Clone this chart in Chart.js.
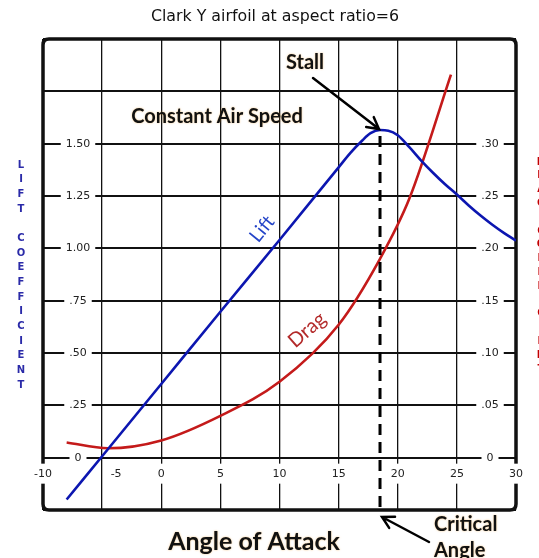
<!DOCTYPE html>
<html>
<head>
<meta charset="utf-8">
<script src="https://cdn.jsdelivr.net/npm/chart.js@4.4.1/dist/chart.umd.min.js"></script>
<style>
  html, body { margin: 0; padding: 0; background: #fff; }
  #wrap { width: 539px; height: 558px; }
</style>
</head>
<body>
<div id="wrap"><canvas id="c" width="539" height="558"></canvas></div>
<script>
// --- data ---
var ANGLES_LIFT = [-8, -5, 0, 5, 10, 15, 16, 17, 17.7, 18.5, 19.2, 20, 21, 22, 23, 24, 25, 26, 27, 28, 29, 30];
var LIFT = [-0.2, 0.007, 0.352, 0.697, 1.04, 1.387, 1.456, 1.515, 1.55, 1.565, 1.562, 1.54, 1.482, 1.418, 1.36, 1.306, 1.257, 1.205, 1.157, 1.113, 1.073, 1.037];

var ANGLES_DRAG = [-8, -4.5, 0, 5, 10, 15, 18.5, 21, 24.5];
var DRAG = [0.0145, 0.009, 0.0165, 0.04, 0.0725, 0.127, 0.19, 0.248, 0.366];

var X_TICKS = [-10, -5, 0, 5, 10, 15, 20, 25, 30];
var X_LABELS = ['-10', '-5', '0', '5', '10', '15', '20', '25', '30'];
var LIFT_TICKS = [0, 0.25, 0.5, 0.75, 1.0, 1.25, 1.5];
var LIFT_LABELS = ['0', '.25', '.50', '.75', '1.00', '1.25', '1.50'];
var DRAG_TICKS = [0, 0.05, 0.1, 0.15, 0.2, 0.25, 0.3];
var DRAG_LABELS = ['0', '.05', '.10', '.15', '.20', '.25', '.30'];

var STALL_ANGLE = 18.5;
var STALL_LIFT = 1.565;

var TITLE = 'Clark Y airfoil at aspect ratio=6';
var LEFT_TITLE = 'LIFT COEFFICIENT';
var RIGHT_TITLE = 'DRAG COEFFICIENT';

function pairs(xs, ys) {
  return xs.map(function (x, i) { return { x: x, y: ys[i] }; });
}

var TICK_FONT = "11px 'DejaVu Sans', Verdana, sans-serif";
function bold(s) { return 'bold ' + s + "px Lato, 'Open Sans', sans-serif"; }

function gapLabel(ctx, text, x, y, padX, padY) {
  var w = ctx.measureText(text).width;
  ctx.fillStyle = '#fff';
  ctx.fillRect(x - w / 2 - padX, y - padY, w + 2 * padX, 2 * padY);
  ctx.fillStyle = '#222';
  ctx.fillText(text, x, y);
}

function glowText(ctx, text, x, y) {
  ctx.save();
  ctx.shadowColor = 'rgba(235,150,30,0.55)';
  ctx.shadowBlur = 2;
  ctx.fillText(text, x, y);
  ctx.restore();
}

function arrow(ctx, x0, y0, x1, y1) {
  var a = Math.atan2(y1 - y0, x1 - x0);
  var h = 13;
  ctx.beginPath();
  ctx.moveTo(x0, y0);
  ctx.lineTo(x1, y1);
  ctx.moveTo(x1 - h * Math.cos(a - 0.5), y1 - h * Math.sin(a - 0.5));
  ctx.lineTo(x1, y1);
  ctx.lineTo(x1 - h * Math.cos(a + 0.5), y1 - h * Math.sin(a + 0.5));
  ctx.stroke();
}

var framePlugin = {
  id: 'frame',
  beforeDatasetsDraw: function (chart) {
    var ctx = chart.ctx, a = chart.chartArea;
    var xs = chart.scales.x, ys = chart.scales.y, y2 = chart.scales.y2;
    ctx.save();
    // rounded frame
    var r = 6;
    ctx.strokeStyle = '#111';
    ctx.lineWidth = 3.5;
    ctx.beginPath();
    ctx.moveTo(a.left + r, a.top);
    ctx.lineTo(a.right - r, a.top);
    ctx.quadraticCurveTo(a.right, a.top, a.right, a.top + r);
    ctx.lineTo(a.right, a.bottom - r);
    ctx.quadraticCurveTo(a.right, a.bottom, a.right - r, a.bottom);
    ctx.lineTo(a.left + r, a.bottom);
    ctx.quadraticCurveTo(a.left, a.bottom, a.left, a.bottom - r);
    ctx.lineTo(a.left, a.top + r);
    ctx.quadraticCurveTo(a.left, a.top, a.left + r, a.top);
    ctx.stroke();

    ctx.font = TICK_FONT;
    ctx.textAlign = 'center';
    ctx.textBaseline = 'middle';
    // lift labels inside left column
    LIFT_TICKS.forEach(function (v, i) {
      gapLabel(ctx, LIFT_LABELS[i], a.left + 35, ys.getPixelForValue(v), 5, 4);
    });
    // drag labels inside right column
    DRAG_TICKS.forEach(function (v, i) {
      gapLabel(ctx, DRAG_LABELS[i], a.right - 26, y2.getPixelForValue(v), 5, 4);
    });
    // angle labels in the band under the zero line
    var yb = ys.getPixelForValue(0) + 16;
    X_TICKS.forEach(function (v, i) {
      var x = xs.getPixelForValue(v) + (v === -5 ? 14 : 0);
      gapLabel(ctx, X_LABELS[i], x, yb, 3, 10);
    });
    ctx.restore();
  },
  afterDatasetsDraw: function (chart) {
    var ctx = chart.ctx, a = chart.chartArea;
    var xs = chart.scales.x, ys = chart.scales.y;
    var sx = xs.getPixelForValue(STALL_ANGLE);
    var sy = ys.getPixelForValue(STALL_LIFT);
    ctx.save();

    // critical angle dashed line
    ctx.strokeStyle = '#000';
    ctx.lineWidth = 3;
    ctx.setLineDash([11, 7]);
    ctx.beginPath();
    ctx.moveTo(sx, sy + 6);
    ctx.lineTo(sx, a.bottom + 2);
    ctx.stroke();
    ctx.setLineDash([]);

    // arrows
    ctx.lineWidth = 2.5;
    ctx.lineCap = 'round';
    arrow(ctx, sx - 67, sy - 52, sx - 1, sy - 1);
    arrow(ctx, sx + 49, a.bottom + 32, sx + 2, a.bottom + 7);

    // curve labels
    ctx.textAlign = 'center';
    ctx.textBaseline = 'middle';
    ctx.save();
    ctx.translate(262, 229);
    ctx.rotate(-51 * Math.PI / 180);
    ctx.font = "19px Lato, 'Open Sans', sans-serif";
    ctx.fillStyle = '#2545c8';
    ctx.fillText('Lift', 0, 0);
    ctx.restore();
    ctx.save();
    ctx.translate(307, 330);
    ctx.rotate(-41 * Math.PI / 180);
    ctx.font = "20px Lato, 'Open Sans', sans-serif";
    ctx.fillStyle = '#b32a2a';
    ctx.fillText('Drag', 0, 0);
    ctx.restore();

    // annotation texts
    ctx.fillStyle = '#111';
    ctx.font = bold(20);
    glowText(ctx, 'Stall', 305, 63);
    glowText(ctx, 'Constant Air Speed', 217, 117);
    ctx.textAlign = 'left';
    glowText(ctx, 'Critical', 434, 525);
    glowText(ctx, 'Angle', 434, 551);
    ctx.textAlign = 'center';
    ctx.font = bold(25);
    glowText(ctx, 'Angle of Attack', 254, 542);

    // title
    ctx.font = "15.8px 'DejaVu Sans', Verdana, sans-serif";
    ctx.fillStyle = '#111';
    ctx.fillText(TITLE, 275, 17);

    // vertical side titles
    ctx.font = "bold 10px 'DejaVu Sans', Verdana, sans-serif";
    ctx.fillStyle = '#2a2aa8';
    LEFT_TITLE.split('').forEach(function (ch, i) {
      ctx.fillText(ch, 21, 165 + i * 14.67);
    });
    ctx.fillStyle = '#c00000';
    RIGHT_TITLE.split('').forEach(function (ch, i) {
      ctx.fillText(ch, 541, 162 + i * 13.8);
    });
    ctx.restore();
  }
};

new Chart(document.getElementById('c'), {
  type: 'line',
  data: {
    datasets: [
      {
        label: 'Lift',
        data: pairs(ANGLES_LIFT, LIFT),
        yAxisID: 'y',
        borderColor: '#0c16b0',
        borderWidth: 2.6,
        pointRadius: 0,
        cubicInterpolationMode: 'monotone'
      },
      {
        label: 'Drag',
        data: pairs(ANGLES_DRAG, DRAG),
        yAxisID: 'y2',
        borderColor: '#c41a1a',
        borderWidth: 2.6,
        pointRadius: 0,
        cubicInterpolationMode: 'monotone'
      }
    ]
  },
  options: {
    responsive: false,
    animation: false,
    devicePixelRatio: 1,
    layout: { padding: { left: 43, top: 39, right: 23, bottom: 48 } },
    plugins: { legend: { display: false }, tooltip: { enabled: false }, title: { display: false } },
    scales: {
      x: {
        type: 'linear', min: -10, max: 30,
        ticks: { stepSize: 5, display: false },
        grid: { color: '#111', lineWidth: 1.3, drawTicks: false },
        border: { display: false }
      },
      y: {
        type: 'linear', min: -0.25, max: 2,
        ticks: { stepSize: 0.25, display: false },
        grid: { color: '#111', lineWidth: 2, drawTicks: false },
        border: { display: false }
      },
      y2: { type: 'linear', display: false, min: -0.05, max: 0.4 }
    }
  },
  plugins: [framePlugin]
});
</script>
</body>
</html>
